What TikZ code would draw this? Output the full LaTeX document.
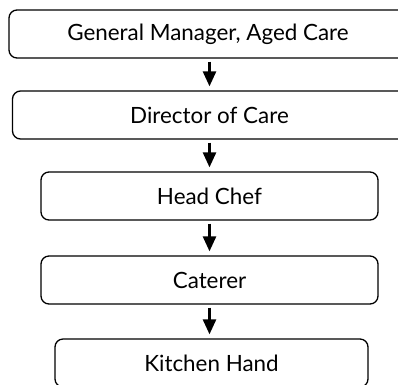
\documentclass[tikz,border=0pt]{standalone}
\usepackage{fontspec}
\setmainfont{Lato}
\usetikzlibrary{arrows.meta}
\tikzset{
  rolebox/.style={draw, rounded corners=8pt, line width=1.3pt, minimum height=48pt, inner sep=0pt, font=\fontsize{22.4}{26}\selectfont},
  reports/.style={line width=2.6pt, -{Triangle[width=13pt,length=15pt]}, shorten <=3pt, shorten >=4pt}
}
\begin{document}
\begin{tikzpicture}[x=1pt, y=-1pt]
			%%%%% START %%%%%
			\useasboundingbox (0, 0) rectangle (398, 384);
			
			\node[rolebox, minimum width=398pt] (gm) at (208, 34) {General Manager, Aged Care};
			\node[rolebox, minimum width=394pt] (doc) at (209.5, 115) {Director of Care};
			\node[rolebox, minimum width=337pt] (chef) at (209.5, 196) {Head Chef};
			\node[rolebox, minimum width=337pt] (cat) at (209.5, 280) {Caterer};
			\node[rolebox, minimum width=313pt] (kh) at (211.5, 363) {Kitchen Hand};
			
			\draw[reports] (doc.north |- gm.south) -- (doc.north);
			\draw[reports] (doc.south) -- (doc.south |- chef.north);
			\draw[reports] (chef.south) -- (chef.south |- cat.north);
			\draw[reports] (cat.south) -- (cat.south |- kh.north);
			%%%%% END %%%%%
\end{tikzpicture}
\end{document}
